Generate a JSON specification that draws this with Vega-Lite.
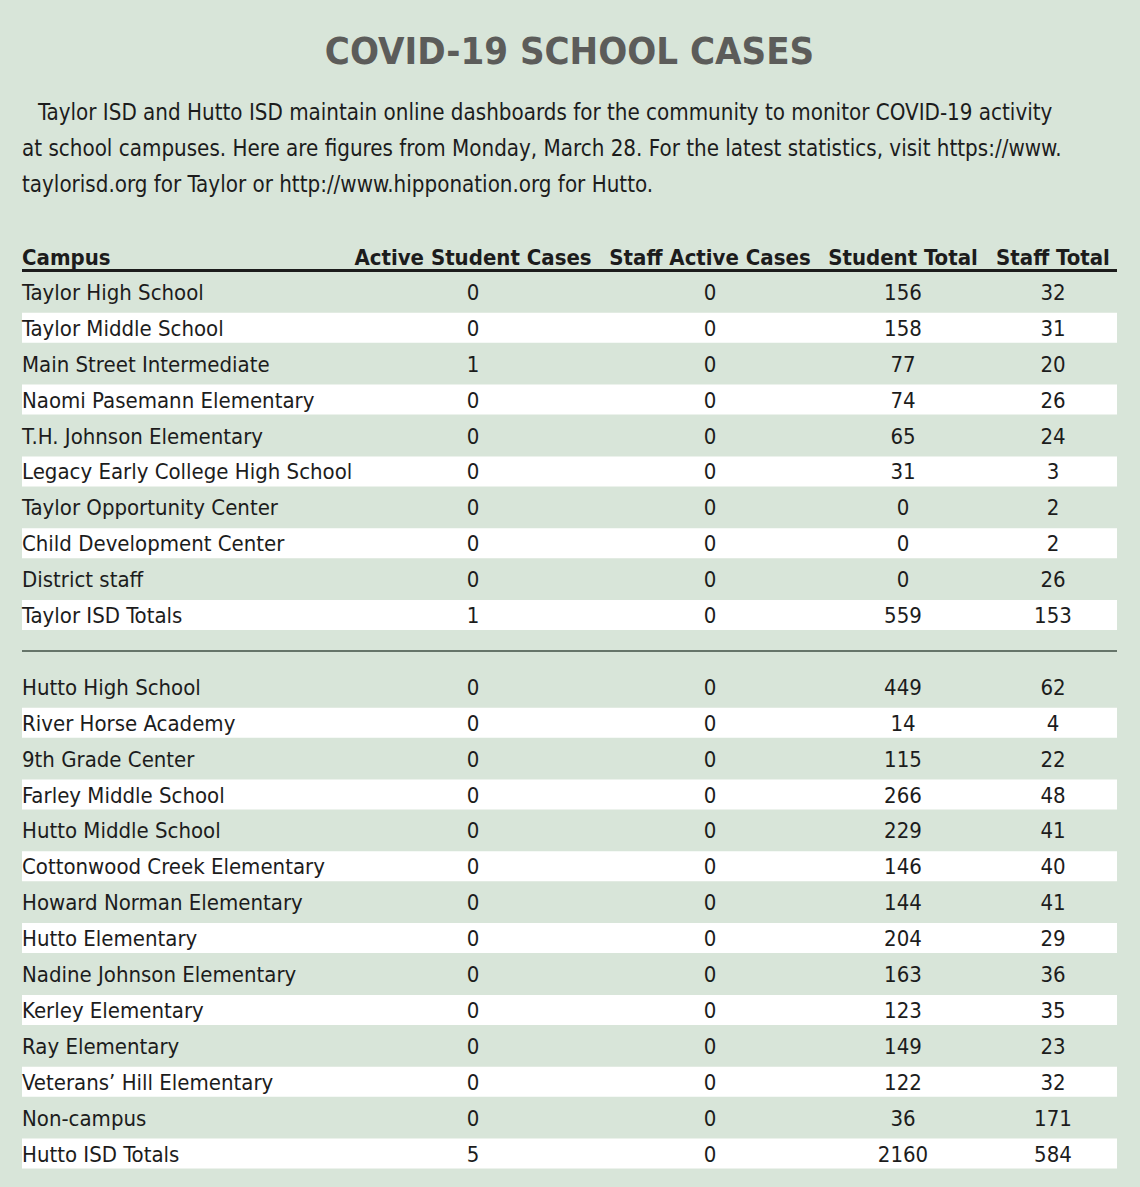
{
  "$schema": "https://vega.github.io/schema/vega-lite/v6.json",
  "width": 1095,
  "height": 1187,
  "autosize": "none",
  "padding": {"left": 22, "right": 23, "top": 0, "bottom": 0},
  "background": "#d8e5d9",
  "config": {
    "view": {"stroke": null},
    "font": "Liberation Sans Narrow, DejaVu Sans Condensed, sans-serif",
    "text": {"font": "Liberation Sans Narrow, DejaVu Sans Condensed, sans-serif", "fontSize": 22, "color": "#1c1c1c"}
  },
  "title": {
    "text": "COVID-19 SCHOOL CASES",
    "anchor": "middle",
    "frame": "group",
    "orient": "top",
    "offset": 0,
    "baseline": "alphabetic",
    "dy": 102,
    "font": "Liberation Sans Narrow, DejaVu Sans Condensed, sans-serif",
    "fontSize": 38,
    "fontWeight": "bold",
    "color": "#5c5c5a"
  },
  "datasets": {
    "schools": [
      {"row": 1, "campus": "Taylor High School", "asc": 0, "sac": 0, "st": 156, "stt": 32},
      {"row": 2, "campus": "Taylor Middle School", "asc": 0, "sac": 0, "st": 158, "stt": 31},
      {"row": 3, "campus": "Main Street Intermediate", "asc": 1, "sac": 0, "st": 77, "stt": 20},
      {"row": 4, "campus": "Naomi Pasemann Elementary", "asc": 0, "sac": 0, "st": 74, "stt": 26},
      {"row": 5, "campus": "T.H. Johnson Elementary", "asc": 0, "sac": 0, "st": 65, "stt": 24},
      {"row": 6, "campus": "Legacy Early College High School", "asc": 0, "sac": 0, "st": 31, "stt": 3},
      {"row": 7, "campus": "Taylor Opportunity Center", "asc": 0, "sac": 0, "st": 0, "stt": 2},
      {"row": 8, "campus": "Child Development Center", "asc": 0, "sac": 0, "st": 0, "stt": 2},
      {"row": 9, "campus": "District staff", "asc": 0, "sac": 0, "st": 0, "stt": 26},
      {"row": 10, "campus": "Taylor ISD Totals", "asc": 1, "sac": 0, "st": 559, "stt": 153},
      {"row": 12, "campus": "Hutto High School", "asc": 0, "sac": 0, "st": 449, "stt": 62},
      {"row": 13, "campus": "River Horse Academy", "asc": 0, "sac": 0, "st": 14, "stt": 4},
      {"row": 14, "campus": "9th Grade Center", "asc": 0, "sac": 0, "st": 115, "stt": 22},
      {"row": 15, "campus": "Farley Middle School", "asc": 0, "sac": 0, "st": 266, "stt": 48},
      {"row": 16, "campus": "Hutto Middle School", "asc": 0, "sac": 0, "st": 229, "stt": 41},
      {"row": 17, "campus": "Cottonwood Creek Elementary", "asc": 0, "sac": 0, "st": 146, "stt": 40},
      {"row": 18, "campus": "Howard Norman Elementary", "asc": 0, "sac": 0, "st": 144, "stt": 41},
      {"row": 19, "campus": "Hutto Elementary", "asc": 0, "sac": 0, "st": 204, "stt": 29},
      {"row": 20, "campus": "Nadine Johnson Elementary", "asc": 0, "sac": 0, "st": 163, "stt": 36},
      {"row": 21, "campus": "Kerley Elementary", "asc": 0, "sac": 0, "st": 123, "stt": 35},
      {"row": 22, "campus": "Ray Elementary", "asc": 0, "sac": 0, "st": 149, "stt": 23},
      {"row": 23, "campus": "Veterans’ Hill Elementary", "asc": 0, "sac": 0, "st": 122, "stt": 32},
      {"row": 24, "campus": "Non-campus", "asc": 0, "sac": 0, "st": 36, "stt": 171},
      {"row": 25, "campus": "Hutto ISD Totals", "asc": 5, "sac": 0, "st": 2160, "stt": 584}
    ],
    "headers": [
      {"col": 1, "label": "Active Student Cases"},
      {"col": 2, "label": "Staff Active Cases"},
      {"col": 3, "label": "Student Total"},
      {"col": 4, "label": "Staff Total"}
    ],
    "intro": [
      {"line": -4, "text": "Taylor ISD and Hutto ISD maintain online dashboards for the community to monitor COVID-19 activity"},
      {"line": -3, "text": "at school campuses. Here are figures from Monday, March 28. For the latest statistics, visit https://www."},
      {"line": -2, "text": "taylorisd.org for Taylor or http://www.hipponation.org for Hutto."}
    ]
  },
  "encoding": {
    "y": {"type": "quantitative", "scale": {"domain": [0, 25], "range": [256, 1153.5], "nice": false, "zero": false}, "axis": null}
  },
  "layer": [
    {
      "data": {"name": "schools"},
      "transform": [{"filter": "(datum.row <= 10 && datum.row % 2 == 0) || (datum.row >= 12 && datum.row % 2 == 1)"}],
      "mark": {"type": "rect", "color": "#ffffff", "height": 30},
      "encoding": {"y": {"field": "row", "type": "quantitative"}}
    },
    {
      "data": {"name": "schools"},
      "mark": {"type": "rule", "color": "#1c1c1c", "strokeWidth": 1.6},
      "encoding": {"y": {"datum": 0.4, "type": "quantitative"}}
    },
    {
      "data": {"name": "schools"},
      "mark": {"type": "rule", "color": "#66756a", "strokeWidth": 2},
      "encoding": {"y": {"datum": 11, "type": "quantitative"}}
    },
    {
      "data": {"name": "intro"},
      "transform": [{"filter": "datum.line == -4"}],
      "mark": {"type": "text", "align": "left", "baseline": "alphabetic", "dy": 8, "dx": 16, "fontSize": 22.2},
      "encoding": {
        "y": {"field": "line", "type": "quantitative"},
        "x": {"datum": 0, "type": "quantitative", "scale": {"domain": [0, 1, 2, 3, 4], "range": [0, 451, 688, 881, 1031], "nice": false, "zero": false}, "axis": null},
        "text": {"field": "text"}
      }
    },
    {
      "data": {"name": "intro"},
      "transform": [{"filter": "datum.line != -4"}],
      "mark": {"type": "text", "align": "left", "baseline": "alphabetic", "dy": 8, "fontSize": 22.2},
      "encoding": {
        "y": {"field": "line", "type": "quantitative"},
        "x": {"datum": 0, "type": "quantitative"},
        "text": {"field": "text"}
      }
    },
    {
      "data": {"name": "headers"},
      "transform": [{"filter": "datum.col == 1"}],
      "mark": {"type": "text", "align": "left", "baseline": "alphabetic", "dy": 9, "fontWeight": "bold", "fontSize": 22},
      "encoding": {
        "y": {"datum": 0, "type": "quantitative"},
        "x": {"datum": 0, "type": "quantitative"},
        "text": {"value": "Campus"}
      }
    },
    {
      "data": {"name": "headers"},
      "mark": {"type": "text", "align": "center", "baseline": "alphabetic", "dy": 9, "fontWeight": "bold", "fontSize": 22},
      "encoding": {
        "y": {"datum": 0, "type": "quantitative"},
        "x": {"field": "col", "type": "quantitative"},
        "text": {"field": "label"}
      }
    },
    {
      "data": {"name": "schools"},
      "mark": {"type": "text", "align": "left", "baseline": "alphabetic", "dy": 8},
      "encoding": {
        "y": {"field": "row", "type": "quantitative"},
        "x": {"datum": 0, "type": "quantitative"},
        "text": {"field": "campus"}
      }
    },
    {
      "data": {"name": "schools"},
      "mark": {"type": "text", "align": "center", "baseline": "alphabetic", "dy": 8},
      "encoding": {
        "y": {"field": "row", "type": "quantitative"},
        "x": {"datum": 1, "type": "quantitative"},
        "text": {"field": "asc"}
      }
    },
    {
      "data": {"name": "schools"},
      "mark": {"type": "text", "align": "center", "baseline": "alphabetic", "dy": 8},
      "encoding": {
        "y": {"field": "row", "type": "quantitative"},
        "x": {"datum": 2, "type": "quantitative"},
        "text": {"field": "sac"}
      }
    },
    {
      "data": {"name": "schools"},
      "mark": {"type": "text", "align": "center", "baseline": "alphabetic", "dy": 8},
      "encoding": {
        "y": {"field": "row", "type": "quantitative"},
        "x": {"datum": 3, "type": "quantitative"},
        "text": {"field": "st"}
      }
    },
    {
      "data": {"name": "schools"},
      "mark": {"type": "text", "align": "center", "baseline": "alphabetic", "dy": 8},
      "encoding": {
        "y": {"field": "row", "type": "quantitative"},
        "x": {"datum": 4, "type": "quantitative"},
        "text": {"field": "stt"}
      }
    }
  ]
}
